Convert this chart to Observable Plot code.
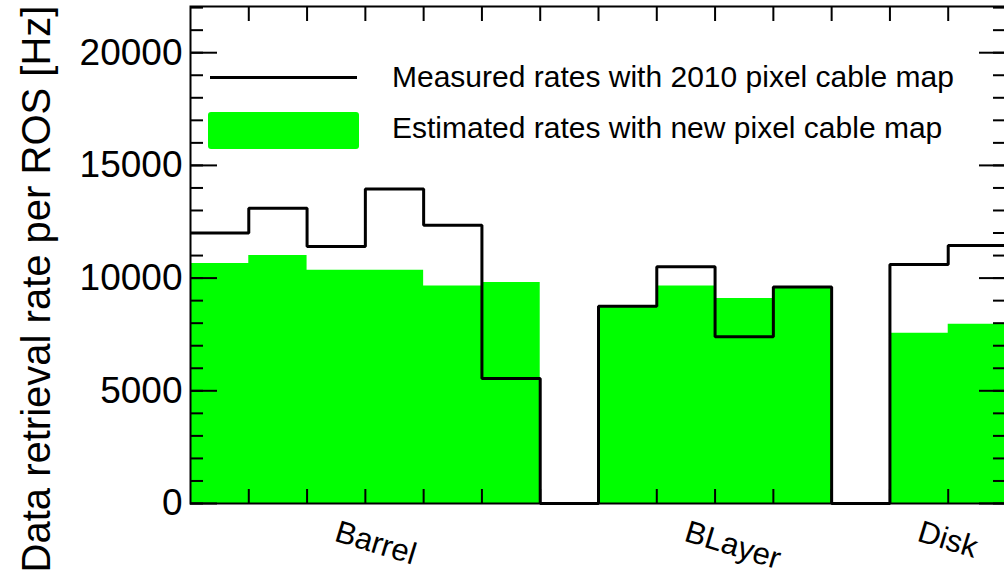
<!DOCTYPE html>
<html>
<head>
<meta charset="utf-8">
<script src="https://cdn.jsdelivr.net/npm/d3@7"></script>
<script src="https://cdn.jsdelivr.net/npm/@observablehq/plot@0.6"></script>
<style>
html, body { margin: 0; padding: 0; background: #fff; overflow: hidden; width: 1004px; height: 575px; }
#chart { width: 1004px; height: 575px; overflow: hidden; position: relative; }
#chart svg { display: block; overflow: hidden; }
</style>
</head>
<body>
<div id="chart"></div>
<script>
// ---- data ----
const binIndex = [0, 1, 2, 3, 4, 5, 6, 7, 8, 9, 10, 11, 12, 13];
const measured = [12000, 13100, 11400, 13950, 12350, 5550, 0, 8750, 10500, 7400, 9600, 0, 10600, 11450];
const estimated = [10650, 11000, 10350, 10350, 9650, 9800, 0, 8750, 9650, 9100, 9600, 0, 7550, 7950];
const groupNames = ["Barrel", "BLayer", "Disk"];
const groupLabelBins = [2, 8, 12];
const yTickValues = [0, 5000, 10000, 15000, 20000];
const yMinorStep = 1000;
const yMax = 22050;
const yLabel = "Data retrieval rate per ROS [Hz]";
const legendLabels = ["Measured rates with 2010 pixel cable map", "Estimated rates with new pixel cable map"];

// ---- layout ----
const FONT = "'Liberation Sans', Arial, Helvetica, sans-serif";
const GREEN = "#00ff00";
const W = 1004, H = 575;
const mL = 190, mR = -2, mT = 6, mB = 72;
const pw = W - mL - mR, ph = H - mT - mB;

const nBins = binIndex.length;
const stepOf = values => binIndex.map(i => ({x: i, y: values[i]}))
  .concat([{x: nBins, y: values[nBins - 1]}]);
const measuredStep = stepOf(measured);
const estimatedStep = stepOf(estimated);
const binEdges = d3.range(1, nBins);
const yMinor = d3.range(0, yMax, yMinorStep);
const groups = groupNames.map((name, i) => ({name, bin: groupLabelBins[i]}));

const tickStyle = {stroke: "black", strokeWidth: 2};

const plot = Plot.plot({
  width: W,
  height: H,
  marginLeft: mL,
  marginRight: mR,
  marginTop: mT,
  marginBottom: mB,
  style: {fontFamily: FONT, color: "black", background: "white"},
  x: {domain: [0, nBins], axis: null},
  y: {domain: [0, yMax]},
  marks: [
    Plot.areaY(estimatedStep, {x: "x", y: "y", curve: "step-after", fill: GREEN}),
    Plot.line(measuredStep, {x: "x", y: "y", curve: "step-after", stroke: "black", strokeWidth: 3, strokeLinejoin: "miter", strokeLinecap: "butt"}),
    // y ticks (inward, both sides)
    Plot.ruleY(yTickValues, {...tickStyle, insetRight: pw - 27}),
    Plot.ruleY(yMinor, {...tickStyle, insetRight: pw - 13}),
    Plot.ruleY(yTickValues, {...tickStyle, insetLeft: pw - 27}),
    Plot.ruleY(yMinor, {...tickStyle, insetLeft: pw - 13}),
    // x ticks (inward, top and bottom) at bin edges
    Plot.ruleX(binEdges, {...tickStyle, insetBottom: ph - 15}),
    Plot.ruleX(binEdges, {...tickStyle, insetTop: ph - 14}),
    Plot.axisY(yTickValues, {tickSize: 0, tickPadding: 8, fontSize: 37, label: null, tickFormat: d => String(d)}),
    Plot.text(groups, {
      x: d => d.bin + 0.5, y: 0, text: "name",
      rotate: 17, textAnchor: "start", lineAnchor: "bottom",
      dx: -3, dy: 37, fontSize: 31, fill: "black"
    }),
    Plot.text([yLabel], {
      frameAnchor: "left", rotate: -90, textAnchor: "middle", lineAnchor: "bottom",
      dx: -141, dy: 34, fontSize: 40, fill: "black"
    }),
    Plot.frame({stroke: "black", strokeWidth: 2})
  ]
});

// ---- legend (drawn inside the SVG) ----
const svg = d3.select(plot);
const lg = svg.append("g").attr("font-family", FONT).attr("text-anchor", "start");
lg.append("line")
  .attr("x1", 210).attr("x2", 357).attr("y1", 77.5).attr("y2", 77.5)
  .attr("stroke", "black").attr("stroke-width", 3);
lg.append("rect")
  .attr("x", 208).attr("y", 112).attr("width", 151).attr("height", 37)
  .attr("rx", 3).attr("fill", GREEN);
lg.selectAll("text.leg").data(legendLabels).join("text")
  .attr("class", "leg")
  .attr("x", 392)
  .attr("y", (d, i) => [87, 138][i])
  .attr("text-anchor", "start")
  .attr("font-size", 30)
  .attr("fill", "black")
  .text(d => d);

document.getElementById("chart").appendChild(plot);
</script>
</body>
</html>
